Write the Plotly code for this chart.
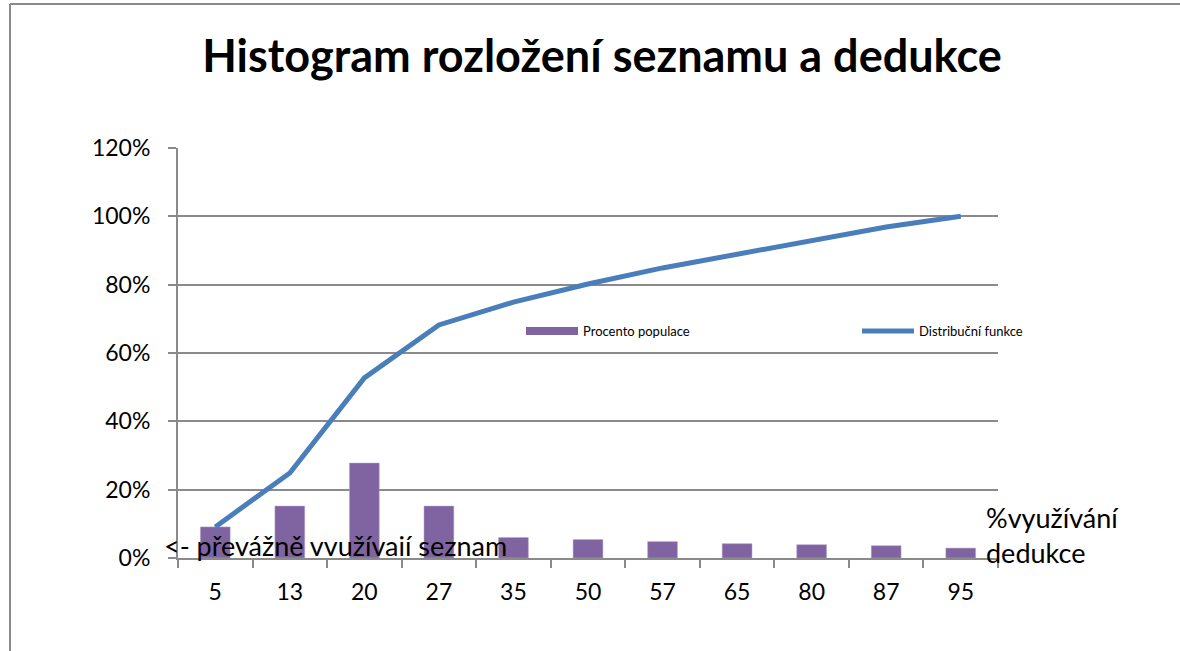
import plotly.graph_objects as go

categories = ["5", "13", "20", "27", "35", "50", "57", "65", "80", "87", "95"]
procento_populace = [0.091, 0.152, 0.278, 0.152, 0.060, 0.054, 0.048, 0.042, 0.039, 0.036, 0.029]
distribucni_funkce = [0.091, 0.249, 0.527, 0.682, 0.749, 0.802, 0.849, 0.890, 0.931, 0.969, 1.000]
y_ticks = [0, 0.2, 0.4, 0.6, 0.8, 1.0, 1.2]

W, H = 1180, 651
L, R, T, B = 178, 182, 148, 93
PW, PH = W - L - R, H - T - B

def cx(x):
    return x / W

def cy(y):
    return 1 - y / H

FONT = "Lato"
PURPLE = "#8064A2"
BLUE = "#4A7EBB"
GRID = "#8a8a8a"

fig = go.Figure()
fig.add_trace(go.Bar(
    x=categories, y=procento_populace, name="Procento populace",
    marker=dict(color=PURPLE, line=dict(color="#B7A6CC", width=0.5)),
    showlegend=False,
))
# legend proxy for the bar series (wide rectangle marker like the original)
fig.add_trace(go.Scatter(
    x=[None], y=[None], mode="lines", name="Procento populace",
    line=dict(color=PURPLE, width=8), legend="legend",
))
fig.add_trace(go.Scatter(
    x=categories, y=distribucni_funkce, mode="lines", name="Distribuční funkce",
    line=dict(color=BLUE, width=5), legend="legend2",
))

leg_common = dict(
    orientation="h", xanchor="left", yanchor="middle",
    xref="container", yref="container",
    font=dict(size=13, color="black", family=FONT), bgcolor="rgba(0,0,0,0)",
    itemwidth=52,
)

fig.update_layout(
    width=W, height=H,
    margin=dict(l=L, r=R, t=T, b=B, autoexpand=False),
    paper_bgcolor="white", plot_bgcolor="white",
    bargap=0.6,
    title=dict(
        text="<b>Histogram rozložení seznamu a dedukce</b>",
        xref="container", yref="container",
        x=cx(602), xanchor="center", y=cy(56), yanchor="middle",
        font=dict(family=FONT, size=45, color="black"),
    ),
    font=dict(family=FONT, color="black"),
    legend=dict(x=cx(521), y=cy(331), **leg_common),
    legend2=dict(x=cx(857), y=cy(331), **leg_common),
    xaxis=dict(
        type="category", showgrid=False, showline=True, linecolor=GRID, linewidth=2,
        ticks="outside", tickson="boundaries", ticklen=8, tickcolor=GRID, tickwidth=2,
        tickfont=dict(size=23, color="black"), automargin=False, ticklabelstandoff=12,
    ),
    yaxis=dict(
        range=[0, 1.2], tickvals=y_ticks, tickformat=".0%",
        showgrid=True, gridcolor=GRID, gridwidth=1.5,
        showline=True, linecolor=GRID, linewidth=2,
        ticks="outside", ticklen=8, tickcolor=GRID, tickwidth=2,
        tickfont=dict(size=23, color="black"), zeroline=False,
        automargin=False, ticklabelstandoff=13,
    ),
    shapes=[
        dict(type="line", xref="paper", yref="paper",
             x0=(10 - L) / PW, x1=(1180 - L) / PW, y0=(H - B - 4) / PH, y1=(H - B - 4) / PH,
             line=dict(color="#8a8a8a", width=2)),
        dict(type="line", xref="paper", yref="paper",
             x0=(10 - L) / PW, x1=(10 - L) / PW, y0=(H - B - 4) / PH, y1=(H - B - 651) / PH,
             line=dict(color="#8a8a8a", width=2)),
    ],
    annotations=[
        dict(text="<- převážně vvužívaií seznam", xref="paper", yref="paper",
             x=(162 - L) / PW, y=(H - B - 545) / PH, xanchor="left", yanchor="middle",
             showarrow=False, font=dict(family=FONT, size=27, color="black")),
        dict(text="%využívání<br>dedukce", xref="paper", yref="paper",
             x=(984 - L) / PW, y=(H - B - 535) / PH, xanchor="left", yanchor="middle",
             showarrow=False, align="left", font=dict(family=FONT, size=27, color="black")),
    ],
)

fig.write_html(
    "out.html",
    config={"displayModeBar": False},
    post_script="document.body.style.margin='0';document.body.style.overflow='hidden';",
)
